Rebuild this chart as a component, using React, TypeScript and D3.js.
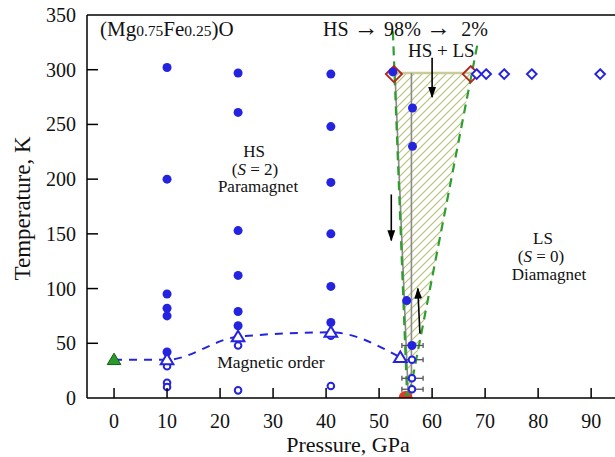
import React from 'react';
import * as d3 from 'd3';

// pressure (GPa), temperature (K)
const hsFilled = [
  { p: 10, t: 302 }, { p: 10, t: 200 }, { p: 10, t: 95 }, { p: 10, t: 82 }, { p: 10, t: 75 }, { p: 10, t: 42 },
  { p: 23.4, t: 297 }, { p: 23.4, t: 261 }, { p: 23.4, t: 153 }, { p: 23.4, t: 112 }, { p: 23.4, t: 79 }, { p: 23.4, t: 66 },
  { p: 40.9, t: 296 }, { p: 40.9, t: 248 }, { p: 40.9, t: 197 }, { p: 40.9, t: 150 }, { p: 40.9, t: 102 }, { p: 40.9, t: 69 },
  { p: 52.6, t: 298 }, { p: 56.3, t: 265 }, { p: 56.3, t: 230 }, { p: 55.2, t: 89 }, { p: 56.2, t: 48 },
];
const openCircles = [
  { p: 10, t: 29 }, { p: 10, t: 14 }, { p: 10, t: 10 },
  { p: 23.4, t: 48 }, { p: 23.4, t: 7 },
  { p: 40.9, t: 57 }, { p: 40.9, t: 11 },
  { p: 56.2, t: 35 }, { p: 56.2, t: 18 }, { p: 56.2, t: 8 },
];
const openTriangles = [{ p: 10, t: 35 }, { p: 23.4, t: 56 }, { p: 40.9, t: 60 }, { p: 54, t: 37 }];
const greenTriangle = [{ p: 0, t: 35 }];
const openDiamonds = [{ p: 68.4, t: 296 }, { p: 70.2, t: 296 }, { p: 73.6, t: 296 }, { p: 78.8, t: 296 }, { p: 91.7, t: 296 }];
const redDiamonds = [{ p: 52.8, t: 296 }, { p: 67.3, t: 296 }];
const errorBars = [
  { p: 56.2, t: 48, lo: 54.3, hi: 58.3 }, { p: 56.2, t: 35, lo: 54.3, hi: 58.3 },
  { p: 56.2, t: 18, lo: 54.3, hi: 58.3 }, { p: 56.2, t: 8, lo: 54.3, hi: 58.3 },
];
const magneticOrder = [{ p: 0, t: 35 }, { p: 10, t: 35 }, { p: 23.4, t: 56 }, { p: 40.9, t: 60 }, { p: 54, t: 37 }];
const leftBoundary = [{ p: 52.6, t: 335 }, { p: 55.3, t: 0 }];
const rightBoundary = [{ p: 68.5, t: 322 }, { p: 55.6, t: 0 }];
const grayLeft = [{ p: 53.0, t: 297 }, { p: 55.5, t: 2 }];
const grayRight = [{ p: 56.1, t: 297 }, { p: 56.1, t: 2 }];
const mixedRegion = [{ p: 52.9, t: 297 }, { p: 67.5, t: 297 }, { p: 55.6, t: 0 }, { p: 55.3, t: 0 }];
const arrows = [
  { p1: 60, t1: 311, p2: 60, t2: 275 },
  { p1: 52.3, t1: 186, p2: 52.3, t2: 144 },
  { p1: 57.7, t1: 59, p2: 57.3, t2: 100 },
];
const xTicks = [0, 10, 20, 30, 40, 50, 60, 70, 80, 90];
const yTicks = [0, 50, 100, 150, 200, 250, 300, 350];

const W = 615, H = 457;
const L = 87, R = 615, T = 15, B = 398;
const blue = '#2424e0';
const font = "'Liberation Serif', 'Times New Roman', serif";

export default function App() {
  const x = d3.scaleLinear().domain([-5.1, 94.5]).range([L, R]);
  const y = d3.scaleLinear().domain([0, 350]).range([B, T]);
  const line = d3.line<{ p: number; t: number }>().x(d => x(d.p)).y(d => y(d.t));
  const curve = d3.line<{ p: number; t: number }>().x(d => x(d.p)).y(d => y(d.t)).curve(d3.curveMonotoneX);
  const tri = (cx: number, cy: number, s: number) =>
    `M${cx},${cy - s}L${cx + s * 1.05},${cy + s * 0.75}L${cx - s * 1.05},${cy + s * 0.75}Z`;
  const dia = (cx: number, cy: number, s: number) =>
    `M${cx},${cy - s}L${cx + s},${cy}L${cx},${cy + s}L${cx - s},${cy}Z`;

  return (
    <svg width={W} height={H} style={{ position: 'absolute', left: 0, top: 0, background: '#fff', fontFamily: font }}>
      <defs>
        <pattern id="hatch" patternUnits="userSpaceOnUse" width="8" height="8">
          <path d="M-2,2 L2,-2 M0,8 L8,0 M6,10 L10,6" stroke="#b9c27a" strokeWidth="1.2" />
        </pattern>
        <clipPath id="plot">
          <rect x={L} y={T} width={R - L} height={B - T} />
        </clipPath>
        <marker id="arr" viewBox="0 0 10 10" refX="9" refY="5" markerWidth="7" markerHeight="9" orient="auto">
          <path d="M0,1.5 L10,5 L0,8.5 Z" fill="#000" />
        </marker>
      </defs>

      {/* mixed HS+LS region */}
      <path d={line(mixedRegion) + 'Z'} fill="url(#hatch)" />
      <path d={line(mixedRegion.slice(0, 2))!} stroke="#c9cb98" strokeWidth={2.5} fill="none" />
      <path d={line(grayLeft)!} stroke="#8a8a8a" strokeWidth={1.6} fill="none" />
      <path d={line(grayRight)!} stroke="#8a8a8a" strokeWidth={1.6} fill="none" />
      <path d={line(leftBoundary)!} stroke="#2e9e2e" strokeWidth={2.2} strokeDasharray="9,6" fill="none" />
      <path d={line(rightBoundary)!} stroke="#2e9e2e" strokeWidth={2.2} strokeDasharray="9,6" fill="none" />

      {/* magnetic order boundary */}
      <path d={curve(magneticOrder)!} stroke={blue} strokeWidth={2} strokeDasharray="8,7" fill="none" />

      {/* error bars */}
      {errorBars.map((d, i) => (
        <g key={i} stroke="#555" strokeWidth={1.3}>
          <line x1={x(d.lo)} x2={x(d.hi)} y1={y(d.t)} y2={y(d.t)} />
          <line x1={x(d.lo)} x2={x(d.lo)} y1={y(d.t) - 2.5} y2={y(d.t) + 2.5} />
          <line x1={x(d.hi)} x2={x(d.hi)} y1={y(d.t) - 2.5} y2={y(d.t) + 2.5} />
        </g>
      ))}

      {/* red point at the bottom */}
      <g clipPath="url(#plot)">
        <circle cx={x(55)} cy={y(0)} r={7} fill="#e03a2a" />
        <path d={tri(x(55.3), y(4), 3)} fill="#3a9a3a" />
      </g>

      {redDiamonds.map((d, i) => (
        <path key={i} d={dia(x(d.p), y(d.t), 8)} fill="none" stroke="#b02a22" strokeWidth={2} />
      ))}
      {hsFilled.map((d, i) => (
        <circle key={i} cx={x(d.p)} cy={y(d.t)} r={4.5} fill={blue} />
      ))}
      {openCircles.map((d, i) => (
        <circle key={i} cx={x(d.p)} cy={y(d.t)} r={3.3} fill="#fff" stroke={blue} strokeWidth={2} />
      ))}
      {openTriangles.map((d, i) => (
        <path key={i} d={tri(x(d.p), y(d.t), 6)} fill="#fff" stroke={blue} strokeWidth={2} />
      ))}
      {greenTriangle.map((d, i) => (
        <path key={i} d={tri(x(d.p), y(d.t), 6.5)} fill="#2a9a2a" stroke="#1a5a1a" strokeWidth={1} />
      ))}
      {openDiamonds.map((d, i) => (
        <path key={i} d={dia(x(d.p), y(d.t), 4.8)} fill="#fff" stroke={blue} strokeWidth={2} />
      ))}

      {arrows.map((a, i) => (
        <line key={i} x1={x(a.p1)} y1={y(a.t1)} x2={x(a.p2)} y2={y(a.t2)} stroke="#000" strokeWidth={1.6} markerEnd="url(#arr)" />
      ))}

      {/* frame and axes */}
      <g stroke="#000" strokeWidth={1.5} fill="none">
        <line x1={L} x2={R} y1={T} y2={T} />
        <line x1={L} x2={L} y1={T} y2={B} />
        <line x1={L} x2={R} y1={B} y2={B} />
        {xTicks.map(t => <line key={t} x1={x(t)} x2={x(t)} y1={B} y2={B - 10} />)}
        {yTicks.filter(t => t > 0 && t < 350).map(t => <line key={t} x1={L} x2={L + 11} y1={y(t)} y2={y(t)} />)}
      </g>
      <g fontSize={20} fill="#111">
        {xTicks.map(t => <text key={t} x={x(t)} y={B + 30} textAnchor="middle">{t}</text>)}
        {yTicks.map(t => <text key={t} x={L - 11} y={y(t) + 7} textAnchor="end">{t}</text>)}
      </g>
      <text x={348} y={452} fontSize={22} textAnchor="middle" fill="#111">Pressure, GPa</text>
      <text transform={`translate(30,${(T + B) / 2 + 2}) rotate(-90)`} fontSize={23} textAnchor="middle" fill="#111">Temperature, K</text>

      {/* annotations */}
      <text x={100} y={36} fontSize={21} fill="#111">
        (Mg<tspan fontSize={15.5}>0.75</tspan>Fe<tspan fontSize={15.5}>0.25</tspan>)O
      </text>
      <text x={323} y={36} fontSize={20} fill="#111" textLength={165} lengthAdjust="spacing" xmlSpace="preserve">
        HS <tspan fontSize={25}>→</tspan> 98% <tspan fontSize={25}>→</tspan>  2%
      </text>
      <text x={408} y={57} fontSize={19} fill="#111">HS + LS</text>
      <g fontSize={17} fill="#111" textAnchor="middle">
        <text x={254} y={157}>HS</text>
        <text x={255} y={174.5}>(<tspan fontStyle="italic">S</tspan> = 2)</text>
        <text x={258} y={192}>Paramagnet</text>
        <text x={543} y={244}>LS</text>
        <text x={541} y={262}>(<tspan fontStyle="italic">S</tspan> = 0)</text>
        <text x={549} y={280}>Diamagnet</text>
        <text x={271} y={368} fontSize={17.5}>Magnetic order</text>
      </g>
    </svg>
  );
}
